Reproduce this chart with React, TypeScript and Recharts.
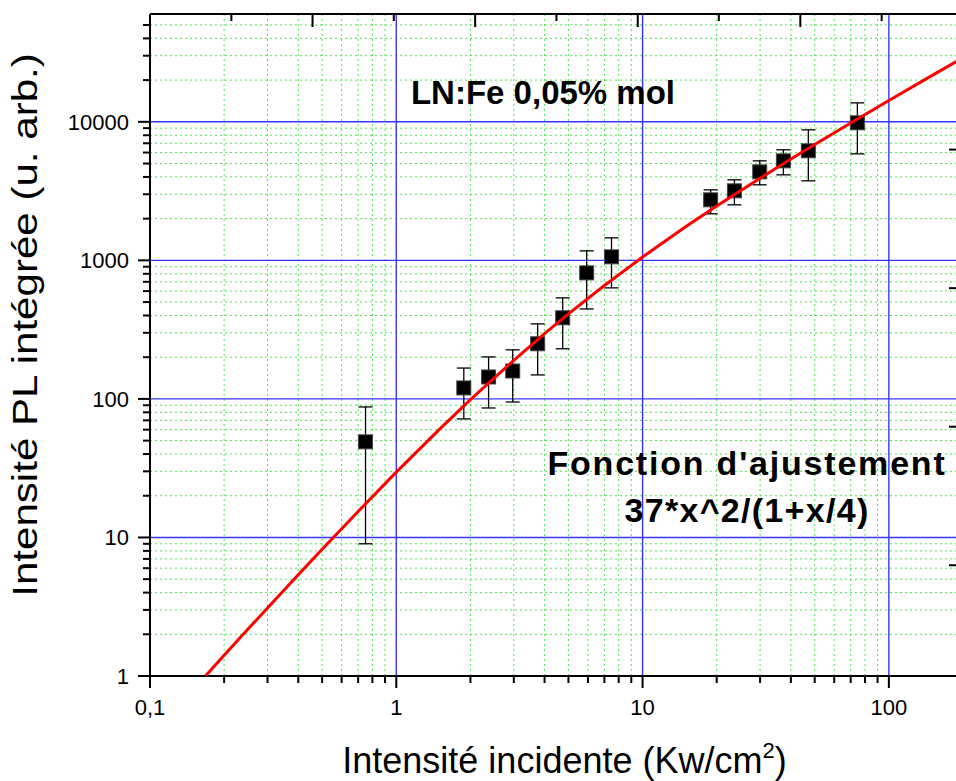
import React from 'react';
import { ComposedChart, XAxis, YAxis, Scatter, ErrorBar, ReferenceLine, ReferenceDot, Label } from 'recharts';

// ---- tick values / labels ----
const xMajorTicks = [0.1, 1, 10, 100];
const xMajorLabels = ['0,1', '1', '10', '100'];
const xMinorTicks = [0.2, 0.3, 0.4, 0.5, 0.6, 0.7, 0.8, 0.9, 2, 3, 4, 5, 6, 7, 8, 9, 20, 30, 40, 50, 60, 70, 80, 90];
const yMajorTicks = [1, 10, 100, 1000, 10000];
const yMajorLabels = ['1', '10', '100', '1000', '10000'];
const yMinorTicks = [2, 3, 4, 5, 6, 7, 8, 9, 20, 30, 40, 50, 60, 70, 80, 90, 200, 300, 400, 500, 600, 700, 800, 900,
  2000, 3000, 4000, 5000, 6000, 7000, 8000, 9000, 20000, 30000, 40000, 50000];
const yTop = 60000;
// top frame ticks (unlabelled) in x-axis units
const topMajorTicks = [0.457, 2.09, 9.56, 43.7];
const topMinorTicks = [0.214, 0.977, 4.47, 20.4, 93.5];
// right frame ticks (unlabelled)
const rightTicks = [6.3, 63, 630, 6300];

// ---- measured points (x, y, upper and lower error limits) ----
const pointX = [0.75, 1.88, 2.37, 2.97, 3.75, 4.74, 5.93, 7.48, 18.9, 23.6, 29.9, 37.3, 47.1, 74.5];
const pointY = [49, 120, 144, 159, 250, 385, 812, 1060, 2734, 3176, 4355, 5227, 6177, 9837];
const pointYHigh = [87.5, 167, 201, 226, 348, 536, 1171, 1453, 3228, 3812, 5227, 6280, 8750, 13700];
const pointYLow = [9.0, 71.7, 86, 95, 149, 230, 446, 633, 2167, 2516, 3510, 4143, 3750, 5870];

// ---- fit curve ----
const fitX = [0.168, 0.2, 0.25, 0.3, 0.4, 0.5, 0.7, 1, 1.5, 2, 3, 4, 5, 7, 10, 15, 20, 30, 40, 50, 70, 100, 150, 200];
const fitY = [1.0, 1.41, 2.18, 3.1, 5.38, 8.22, 15.4, 29.6, 60.5, 98.7, 190, 296, 411, 659, 1057, 1753, 2467, 3918, 5382, 6852, 9800, 14231, 21623, 29020];

const points = pointX.map((x, i) => ({
  x,
  y: pointY[i],
  err: [pointY[i] - pointYLow[i], pointYHigh[i] - pointY[i]],
}));
const fit = fitX.map((x, i) => ({ x, y: fitY[i] }));

const FONT = "'Liberation Sans', Arial, sans-serif";

const LeftTick = (props: any) => {
  const { x, y, payload } = props;
  const idx = yMajorTicks.indexOf(payload.value);
  const major = idx >= 0;
  return (
    <g>
      <line x1={x - (major ? 12 : 7)} y1={y} x2={x} y2={y} stroke="#000" strokeWidth={2} />
      {major && (
        <text x={x - 21} y={y + 8} textAnchor="end" fontSize={22} fontFamily={FONT} fill="#000">
          {yMajorLabels[idx]}
        </text>
      )}
    </g>
  );
};

const BottomTick = (props: any) => {
  const { x, y, payload } = props;
  const idx = xMajorTicks.indexOf(payload.value);
  const major = idx >= 0;
  return (
    <g>
      <line x1={x} y1={y} x2={x} y2={y + (major ? 12 : 7)} stroke="#000" strokeWidth={2} />
      {major && (
        <text x={x} y={y + 39} textAnchor="middle" fontSize={22} fontFamily={FONT} fill="#000">
          {xMajorLabels[idx]}
        </text>
      )}
    </g>
  );
};

const RightTick = (props: any) => {
  const { x, y } = props;
  return <line x1={x - 14} y1={y} x2={x} y2={y} stroke="#000" strokeWidth={2} />;
};

const TopMajorShape = (p: any) => {
  if (p.cx == null || p.cy == null) return <g />;
  return <path d={`M${p.cx},${p.cy}V${p.cy + 13}`} stroke="#000" strokeWidth={2} fill="none" />;
};
const TopMinorShape = (p: any) => {
  if (p.cx == null || p.cy == null) return <g />;
  return <path d={`M${p.cx},${p.cy}V${p.cy + 7}`} stroke="#000" strokeWidth={2} fill="none" />;
};

const SquareShape = (props: any) => {
  const { cx, cy } = props;
  if (cx == null || cy == null) return <g />;
  return <rect x={cx - 7} y={cy - 7} width={14} height={14} fill="#000" stroke="#444" strokeWidth={1} />;
};

const NoShape = () => <g />;

export default function App() {
  return (
    <div style={{ position: 'fixed', left: 0, top: 0, width: 956, height: 781, overflow: 'hidden', background: '#fff' }}>
      <ComposedChart width={1000} height={781} margin={{ top: 14, right: 36, bottom: 0, left: 0 }}>
        <XAxis
          dataKey="x"
          type="number"
          scale="log"
          domain={[0.1, 200]}
          allowDataOverflow
          ticks={[...xMajorTicks, ...xMinorTicks]}
          interval={0}
          tickSize={0}
          tickMargin={0}
          tickLine={false}
          tick={<BottomTick />}
          axisLine={{ stroke: '#000', strokeWidth: 2 }}
          height={105}
        >
          <Label
            content={(p: any) => {
              const vb = p.viewBox || { x: 150, y: 676, width: 813 };
              return (
                <text x={vb.x + vb.width / 2 + 8} y={vb.y + 97} textAnchor="middle" fontSize={36} fontFamily={FONT} fill="#000">
                  Intensité incidente (Kw/cm
                  <tspan fontSize={22} dy={-15}>2</tspan>
                  <tspan dy={15}>)</tspan>
                </text>
              );
            }}
          />
        </XAxis>
        <YAxis
          yAxisId={0}
          dataKey="y"
          type="number"
          scale="log"
          domain={[1, yTop]}
          allowDataOverflow
          ticks={[...yMajorTicks, ...yMinorTicks]}
          interval={0}
          tickSize={0}
          tickMargin={0}
          tickLine={false}
          tick={<LeftTick />}
          axisLine={{ stroke: '#000', strokeWidth: 2 }}
          width={150}
        >
          <Label
            content={(p: any) => {
              const vb = p.viewBox || { x: 0, y: 14, height: 662 };
              return (
                <text
                  transform={`translate(${vb.x + 37}, ${vb.y + vb.height / 2 - 20}) rotate(-90) scale(1.17, 1)`}
                  textAnchor="middle"
                  fontSize={36}
                  fontFamily={FONT}
                  fill="#000"
                >
                  Intensité PL intégrée (u. arb.)
                </text>
              );
            }}
          />
        </YAxis>
        <YAxis
          yAxisId="right"
          orientation="right"
          type="number"
          scale="log"
          domain={[1, yTop]}
          allowDataOverflow
          ticks={rightTicks}
          interval={0}
          tickSize={0}
          tickMargin={0}
          tickLine={false}
          tick={<RightTick />}
          axisLine={{ stroke: '#000', strokeWidth: 2 }}
          width={1}
        />

        {xMinorTicks.map((v) => (
          <ReferenceLine key={`xm${v}`} x={v} stroke="#4fe34f" strokeWidth={1} strokeDasharray="2 3" ifOverflow="hidden" />
        ))}
        {yMinorTicks.map((v) => (
          <ReferenceLine key={`ym${v}`} y={v} stroke="#4fe34f" strokeWidth={1} strokeDasharray="2 3" ifOverflow="hidden" />
        ))}
        {xMajorTicks.slice(1).map((v) => (
          <ReferenceLine key={`xM${v}`} x={v} stroke="#3535ff" strokeWidth={1.4} ifOverflow="hidden" />
        ))}
        {yMajorTicks.slice(1).map((v) => (
          <ReferenceLine key={`yM${v}`} y={v} stroke="#3535ff" strokeWidth={1.4} ifOverflow="hidden" />
        ))}
        <ReferenceLine y={yTop} stroke="#000" strokeWidth={2} ifOverflow="visible" />

        <Scatter data={points} shape={<SquareShape />} isAnimationActive={false}>
          <ErrorBar dataKey="err" direction="y" width={7} stroke="#000" strokeWidth={1.3} isAnimationActive={false} />
        </Scatter>
        <Scatter
          data={fit}
          shape={<NoShape />}
          line={{ stroke: '#ff0000', strokeWidth: 3 }}
          lineType="joint"
          isAnimationActive={false}
        />
        <Scatter
          data={topMajorTicks.map((x) => ({ x, y: yTop }))}
          shape={<TopMajorShape />}
          isAnimationActive={false}
        />
        <Scatter
          data={topMinorTicks.map((x) => ({ x, y: yTop }))}
          shape={<TopMinorShape />}
          isAnimationActive={false}
        />
      </ComposedChart>
      <svg width={956} height={781} style={{ position: 'absolute', left: 0, top: 0, pointerEvents: 'none' }}>
        <text x={543} y={104} textAnchor="middle" fontSize={33} fontWeight="bold" fontFamily={FONT} fill="#000">
          LN:Fe 0,05% mol
        </text>
        <text x={747} y={475} textAnchor="middle" fontSize={34} fontWeight="bold" fontFamily={FONT} fill="#000" letterSpacing={1.8}>
          Fonction d'ajustement
        </text>
        <text x={747} y={522} textAnchor="middle" fontSize={34} fontWeight="bold" fontFamily={FONT} fill="#000" letterSpacing={1.3}>
          37*x^2/(1+x/4)
        </text>
      </svg>
    </div>
  );
}
